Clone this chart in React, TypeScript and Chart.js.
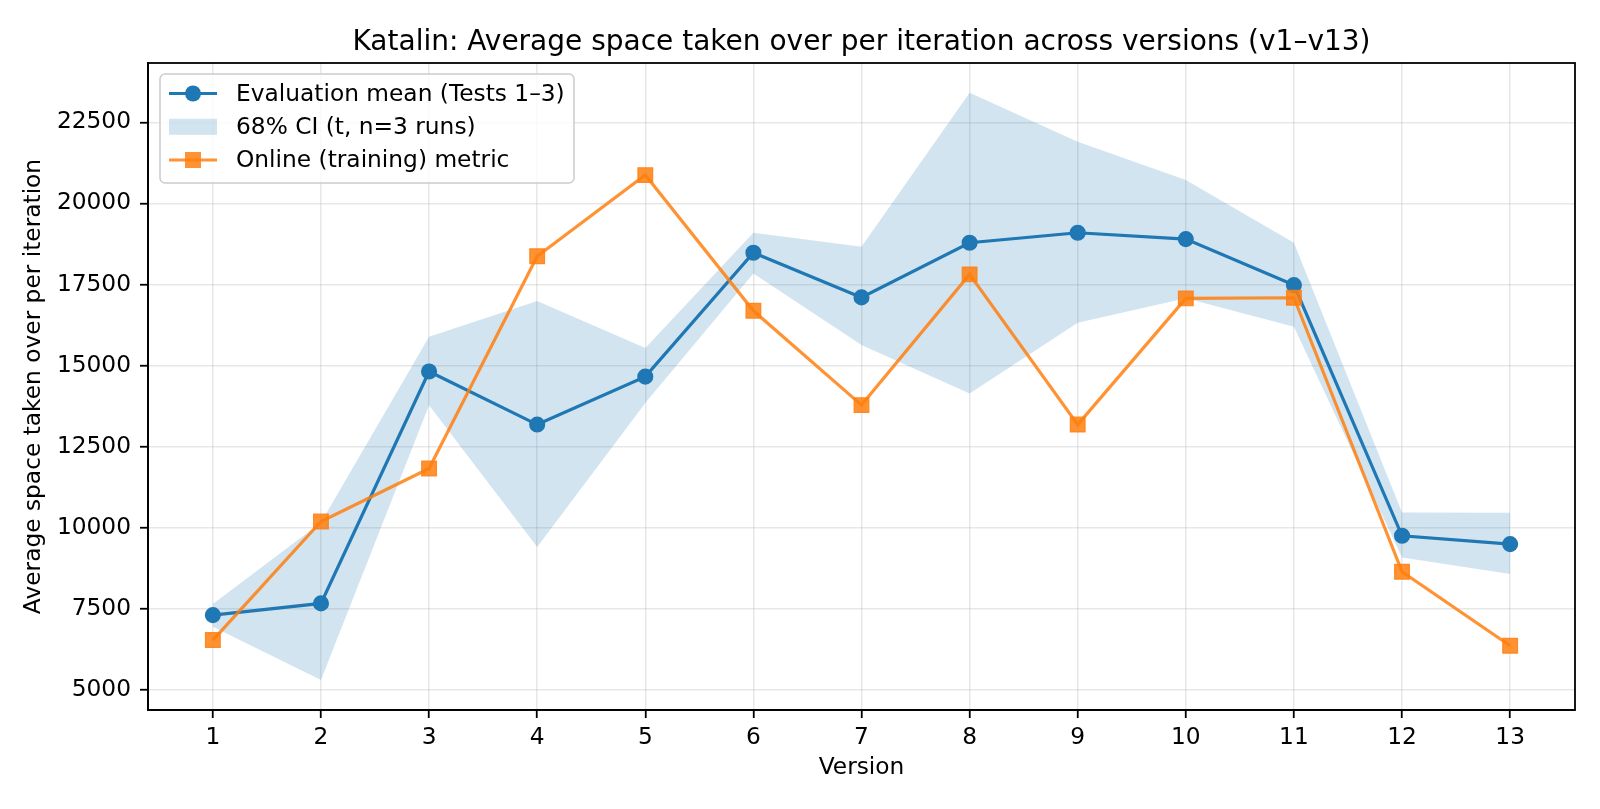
import React, { useEffect, useRef } from "react";
import { Chart, registerables } from "chart.js";

Chart.register(...registerables);

const versions = [1, 2, 3, 4, 5, 6, 7, 8, 9, 10, 11, 12, 13];
const evalMean = [7306, 7667, 14818, 13181, 14658, 18478, 17103, 18787, 19095, 18900, 17482, 9752, 9496];
const ciUpper = [7650, 10162, 15888, 16989, 15540, 19095, 18663, 23412, 21900, 20720, 18786, 10473, 10461];
const ciLower = [6950, 5302, 13779, 9404, 13843, 17843, 15632, 14143, 16320, 17080, 16197, 9086, 8570];
const online = [6536, 10193, 11827, 18373, 20874, 16690, 13782, 17812, 13181, 17072, 17091, 8642, 6360];
const yTicks = [5000, 7500, 10000, 12500, 15000, 17500, 20000, 22500];

const TITLE = "Katalin: Average space taken over per iteration across versions (v1–v13)";
const X_LABEL = "Version";
const Y_LABEL = "Average space taken over per iteration";
const LEGEND_LABELS = ["Evaluation mean (Tests 1–3)", "68% CI (t, n=3 runs)", "Online (training) metric"];

const BLUE = "#1f77b4";
const ORANGE = "rgba(255,127,14,0.85)";
const BAND = "rgba(31,119,180,0.2)";
const GRID = "rgba(176,176,176,0.3)";
const FONT = '"DejaVu Sans", sans-serif';
const FS = 23.3;

const decorPlugin = {
  id: "decor",
  afterDraw(chart: any) {
    const { ctx, chartArea: a } = chart;
    ctx.save();
    // frame
    ctx.strokeStyle = "#000";
    ctx.lineWidth = 1.8;
    ctx.strokeRect(a.left, a.top, a.right - a.left, a.bottom - a.top);
    // title
    ctx.fillStyle = "#000";
    ctx.font = `28px ${FONT}`;
    ctx.textAlign = "center";
    ctx.textBaseline = "alphabetic";
    ctx.fillText(TITLE, (a.left + a.right) / 2, 49.5);

    // legend
    const bx = a.left + 12;
    const by = a.top + 11;
    const bw = 414;
    const bh = 109;
    const r = 5;
    ctx.beginPath();
    ctx.moveTo(bx + r, by);
    ctx.lineTo(bx + bw - r, by);
    ctx.arcTo(bx + bw, by, bx + bw, by + r, r);
    ctx.lineTo(bx + bw, by + bh - r);
    ctx.arcTo(bx + bw, by + bh, bx + bw - r, by + bh, r);
    ctx.lineTo(bx + r, by + bh);
    ctx.arcTo(bx, by + bh, bx, by + bh - r, r);
    ctx.lineTo(bx, by + r);
    ctx.arcTo(bx, by, bx + r, by, r);
    ctx.closePath();
    ctx.fillStyle = "rgba(255,255,255,0.8)";
    ctx.fill();
    ctx.strokeStyle = "#cccccc";
    ctx.lineWidth = 1.5;
    ctx.stroke();

    const rows = [by + 19.5, by + 52.8, by + 86];
    const hx0 = bx + 9;
    const hx1 = bx + 57;
    const hm = bx + 33;
    // row 1: blue line + circle
    ctx.strokeStyle = BLUE;
    ctx.lineWidth = 3.2;
    ctx.beginPath();
    ctx.moveTo(hx0, rows[0]);
    ctx.lineTo(hx1, rows[0]);
    ctx.stroke();
    ctx.fillStyle = BLUE;
    ctx.beginPath();
    ctx.arc(hm, rows[0], 8, 0, Math.PI * 2);
    ctx.fill();
    // row 2: band patch
    ctx.fillStyle = BAND;
    ctx.fillRect(hx0, rows[1] - 8, hx1 - hx0, 16);
    // row 3: orange line + square
    ctx.strokeStyle = ORANGE;
    ctx.lineWidth = 3.2;
    ctx.beginPath();
    ctx.moveTo(hx0, rows[2]);
    ctx.lineTo(hx1, rows[2]);
    ctx.stroke();
    ctx.fillStyle = ORANGE;
    ctx.fillRect(hm - 8, rows[2] - 8, 16, 16);

    ctx.fillStyle = "#000";
    ctx.font = `${FS}px ${FONT}`;
    ctx.textAlign = "left";
    ctx.textBaseline = "middle";
    LEGEND_LABELS.forEach((t, i) => ctx.fillText(t, bx + 76, rows[i] + 1));
    ctx.restore();
  },
};

export default function App() {
  const ref = useRef<HTMLCanvasElement>(null);
  useEffect(() => {
    const canvas = ref.current!;
    const pts = (arr: number[]) => versions.map((v, i) => ({ x: v, y: arr[i] }));
    const chart = new Chart(canvas, {
      type: "line",
      data: {
        datasets: [
          {
            label: LEGEND_LABELS[2],
            data: pts(online),
            borderColor: ORANGE,
            backgroundColor: ORANGE,
            pointBorderColor: ORANGE,
            pointBackgroundColor: ORANGE,
            pointStyle: "rect",
            pointRadius: 10.4,
            pointBorderWidth: 1.2,
            borderWidth: 3.2,
            fill: false,
            order: 0,
          } as any,
          {
            label: LEGEND_LABELS[0],
            data: pts(evalMean),
            borderColor: BLUE,
            backgroundColor: BLUE,
            pointBorderColor: BLUE,
            pointBackgroundColor: BLUE,
            pointStyle: "circle",
            pointRadius: 7.3,
            pointBorderWidth: 1.5,
            borderWidth: 3.2,
            fill: false,
            order: 1,
          },
          {
            label: "ci-upper",
            data: pts(ciUpper),
            borderWidth: 0,
            borderColor: "rgba(0,0,0,0)",
            pointRadius: 0,
            backgroundColor: BAND,
            fill: "+1",
            order: 2,
          },
          {
            label: "ci-lower",
            data: pts(ciLower),
            borderWidth: 0,
            borderColor: "rgba(0,0,0,0)",
            pointRadius: 0,
            fill: false,
            order: 3,
          },
        ],
      },
      options: {
        animation: false,
        responsive: false,
        devicePixelRatio: 1,
        events: [],
        layout: { padding: { top: 63, right: 25, bottom: 0, left: 0 } },
        plugins: {
          legend: { display: false },
          title: { display: false },
          tooltip: { enabled: false },
          filler: { drawTime: "beforeDatasetsDraw" },
        } as any,
        scales: {
          x: {
            type: "linear",
            min: 0.4,
            max: 13.6,
            afterBuildTicks: (s: any) => {
              s.ticks = versions.map((v) => ({ value: v }));
            },
            afterFit: (s: any) => {
              s.height = 99;
            },
            grid: {
              color: GRID,
              lineWidth: 1.5,
              drawTicks: true,
              tickLength: 8,
              tickColor: "#000",
              tickWidth: 1.8,
            },
            border: { display: true, color: "#000", width: 1.8 },
            ticks: {
              color: "#000",
              font: { family: FONT, size: FS },
              padding: 6,
              maxRotation: 0,
              autoSkip: false,
              callback: (v: any) => String(v),
            },
            title: {
              display: true,
              text: X_LABEL,
              color: "#000",
              font: { family: FONT, size: FS },
              padding: { top: 0, bottom: 27 },
            },
          },
          y: {
            type: "linear",
            min: 4380,
            max: 24330,
            afterBuildTicks: (s: any) => {
              s.ticks = yTicks.map((v) => ({ value: v }));
            },
            afterFit: (s: any) => {
              s.width = 148;
            },
            grid: {
              color: GRID,
              lineWidth: 1.5,
              drawTicks: true,
              tickLength: 8,
              tickColor: "#000",
              tickWidth: 1.8,
            },
            border: { display: true, color: "#000", width: 1.8 },
            ticks: {
              color: "#000",
              font: { family: FONT, size: FS },
              padding: 9,
              autoSkip: false,
              callback: (v: any) => String(v),
            },
            title: {
              display: true,
              text: Y_LABEL,
              color: "#000",
              font: { family: FONT, size: FS },
              padding: { top: 20, bottom: 0 },
            },
          },
        },
      },
      plugins: [decorPlugin],
    });
    return () => chart.destroy();
  }, []);
  return (
    <div style={{ position: "absolute", left: 0, top: 0, width: 1600, height: 809, background: "#fff" }}>
      <canvas ref={ref} width={1600} height={809} style={{ display: "block" }} />
    </div>
  );
}
